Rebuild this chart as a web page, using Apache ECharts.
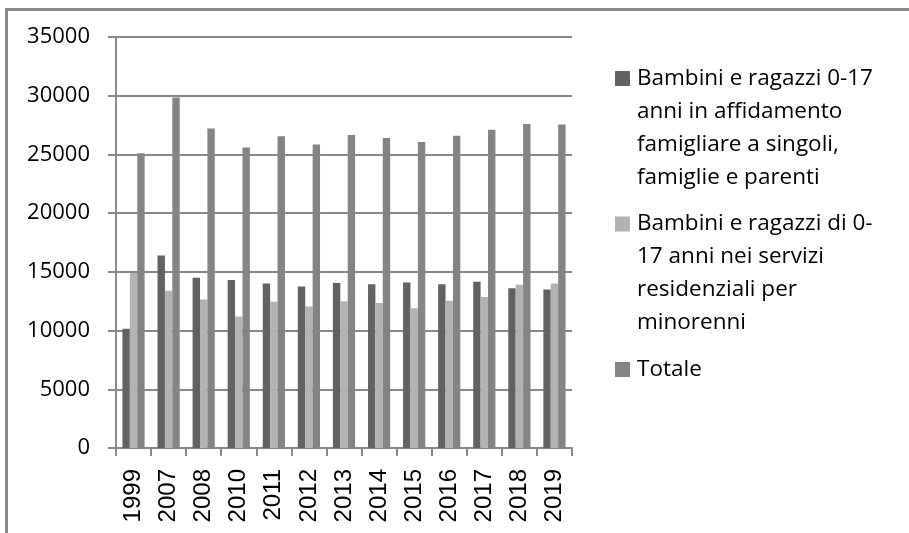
<!DOCTYPE html>
<html>
<head>
<meta charset="utf-8">
<script src="https://cdn.jsdelivr.net/npm/echarts@6/dist/echarts.min.js"></script>
<style>
html,body{margin:0;padding:0;background:#fff;}
#chart{width:909px;height:533px;}
</style>
</head>
<body>
<div id="chart"></div>
<script>
const years = ['1999','2007','2008','2010','2011','2012','2013','2014','2015','2016','2017','2018','2019'];
const affido = [10150, 16400, 14500, 14300, 14000, 13750, 14050, 13950, 14100, 13950, 14150, 13600, 13500];
const residenziali = [14900, 13400, 12650, 11200, 12450, 12050, 12500, 12350, 11900, 12550, 12850, 13900, 14000];
const totale = [25100, 29850, 27200, 25600, 26550, 25850, 26650, 26400, 26050, 26600, 27100, 27600, 27550];
const seriesNames = [
  'Bambini e ragazzi 0-17 anni in affidamento famigliare a singoli, famiglie e parenti',
  'Bambini e ragazzi di 0-17 anni nei servizi residenziali per minorenni',
  'Totale'
];
const legendLines = [
  ['Bambini e ragazzi 0-17', 'anni in affidamento', 'famigliare a singoli,', 'famiglie e parenti'],
  ['Bambini e ragazzi di 0-', '17 anni nei servizi', 'residenziali per', 'minorenni'],
  ['Totale']
];
const yTicks = { min: 0, max: 35000, interval: 5000 };

const colors = ['#626262', '#b3b3b3', '#848484'];
const axisColor = '#898989';
const chart = echarts.init(document.getElementById('chart'), null, {renderer: 'canvas'});

const rich = {
  gap: { width: 7 },
  ind: { width: 22 },
  t: { fontFamily: 'Open Sans', fontSize: 22.5, lineHeight: 33, color: '#000' }
};
colors.forEach((c, i) => { rich['sq' + i] = { width: 15, height: 15, backgroundColor: c }; });

const option = {
  animation: false,
  backgroundColor: '#fff',
  graphic: [{
    type: 'rect',
    silent: true,
    shape: { x: 6.5, y: 9.5, width: 1200, height: 1200 },
    style: { fill: 'none', stroke: '#888', lineWidth: 3 }
  }],
  grid: { left: 116, top: 37, right: 337, bottom: 85, containLabel: false },
  legend: {
    orient: 'vertical',
    left: 610,
    top: 62,
    padding: 0,
    itemGap: 13.5,
    itemWidth: 0,
    itemHeight: 0,
    icon: 'rect',
    selectedMode: false,
    data: seriesNames,
    textStyle: { fontFamily: 'Open Sans', fontSize: 22.5, lineHeight: 33, color: '#000', rich: rich },
    formatter: function (name) {
      const idx = seriesNames.indexOf(name);
      return legendLines[idx].map((l, i) => i === 0
        ? '{sq' + idx + '|}{gap|}{t|' + l + '}'
        : '{ind|}{t|' + l + '}').join('\n');
    }
  },
  xAxis: {
    type: 'category',
    data: years,
    axisLine: { show: true, lineStyle: { color: axisColor, width: 2 } },
    axisTick: { show: true, length: 8, alignWithLabel: false, lineStyle: { color: axisColor, width: 2 } },
    axisLabel: { rotate: 90, margin: 21, fontFamily: 'Liberation Sans', fontSize: 24, color: '#000', interval: 0 },
    splitLine: { show: false }
  },
  yAxis: {
    type: 'value',
    min: yTicks.min,
    max: yTicks.max,
    interval: yTicks.interval,
    axisLine: { show: true, lineStyle: { color: axisColor, width: 2 } },
    axisTick: { show: true, length: 8, lineStyle: { color: axisColor, width: 2 } },
    axisLabel: { margin: 26, fontFamily: 'Open Sans', fontSize: 22, color: '#000', formatter: function (v) { return String(v); } },
    splitLine: { show: true, lineStyle: { color: axisColor, width: 2 } }
  },
  series: [
    { name: seriesNames[0], type: 'bar', data: affido, barWidth: 7.4, barGap: '0%', itemStyle: { color: colors[0] } },
    { name: seriesNames[1], type: 'bar', data: residenziali, barWidth: 7.4, barGap: '0%', itemStyle: { color: colors[1] } },
    { name: seriesNames[2], type: 'bar', data: totale, barWidth: 7.4, barGap: '0%', itemStyle: { color: colors[2] } }
  ]
};
chart.setOption(option);
</script>
</body>
</html>
